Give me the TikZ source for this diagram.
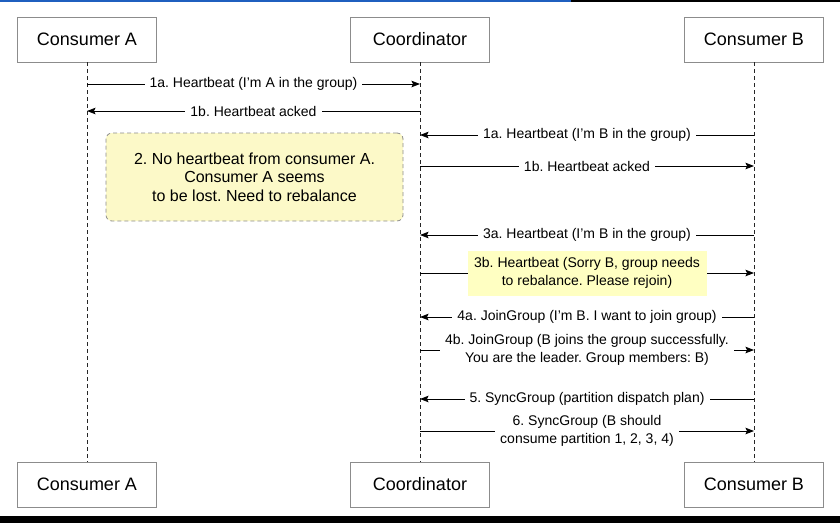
\documentclass[tikz,border=0pt]{standalone}
\usepackage{fontspec}
\setmainfont{Liberation Sans}
\usepackage{xcolor}
\usepackage{tikz}
\usetikzlibrary{arrows.meta,positioning}
\frenchspacing

\definecolor{notefill}{HTML}{FCF9C8}
\definecolor{hlfill}{HTML}{FFFFC2}
\definecolor{boxgray}{HTML}{8C8C8C}
\definecolor{barblue}{HTML}{1F5FBF}

\tikzset{
  actor/.style={draw=boxgray, line width=0.8pt, fill=white, minimum width=139pt,
    minimum height=45pt, inner sep=0pt, font=\fontsize{18}{21}\selectfont},
  lifeline/.style={line width=0.9pt, black!85, dash pattern=on 4pt off 3pt},
  msg/.style={line width=0.9pt, -{Stealth[length=8.5pt,width=6.5pt,inset=1.5pt]}},
  lbl/.style={fill=white, inner xsep=5pt, inner ysep=1pt, align=center,
    font=\fontsize{14}{17.5}\selectfont},
  notebox/.style={draw=boxgray, line width=0.8pt, dash pattern=on 4pt off 3pt,
    rounded corners=6pt, fill=notefill, minimum width=297pt, minimum height=88pt,
    align=center, font=\fontsize{16}{18.5}\selectfont}
}

\begin{document}
\begin{tikzpicture}[x=1pt, y=-1pt]
\useasboundingbox (0,0) rectangle (840,523);

% Screen edges
\fill[barblue] (0,0) rectangle (571,1.5);
\fill[black] (571,0) rectangle (840,1.5);
\fill[black] (0,516) rectangle (840,523);

% Participants
\node[actor] (caTop) at (87,39.5) {Consumer A};
\node[actor] (coTop) at (420,39.5) {Coordinator};
\node[actor] (cbTop) at (754,39.5) {Consumer B};
\node[actor] (caBot) at (87,484.5) {Consumer A};
\node[actor] (coBot) at (420,484.5) {Coordinator};
\node[actor] (cbBot) at (754,484.5) {Consumer B};

% Lifelines
\draw[lifeline] (caTop) -- (caBot);
\draw[lifeline] (coTop) -- (coBot);
\draw[lifeline] (cbTop) -- (cbBot);

% Lost consumer note
\node[notebox] (lostA) at (254.5,177) {2. No heartbeat from consumer A.\\Consumer A seems\\to be lost. Need to rebalance};

% Message end points on the lifelines
\coordinate (a1) at (caTop |- 0,84);  \coordinate (c1) at (coTop |- 0,84);
\coordinate (a2) at (caTop |- 0,111); \coordinate (c2) at (coTop |- 0,111);
\coordinate (c3) at (coTop |- 0,135); \coordinate (b3) at (cbTop |- 0,135);
\coordinate (c4) at (coTop |- 0,166); \coordinate (b4) at (cbTop |- 0,166);
\coordinate (c5) at (coTop |- 0,235); \coordinate (b5) at (cbTop |- 0,235);
\coordinate (c6) at (coTop |- 0,273); \coordinate (b6) at (cbTop |- 0,273);
\coordinate (c7) at (coTop |- 0,317); \coordinate (b7) at (cbTop |- 0,317);
\coordinate (c8) at (coTop |- 0,350); \coordinate (b8) at (cbTop |- 0,350);
\coordinate (c9) at (coTop |- 0,399); \coordinate (b9) at (cbTop |- 0,399);
\coordinate (c10) at (coTop |- 0,431); \coordinate (b10) at (cbTop |- 0,431);

% Consumer A heartbeat
\draw[msg] (a1) -- node[lbl] {1a. Heartbeat (I’m A in the group)} (c1);
\draw[msg] (c2) -- node[lbl] {1b. Heartbeat acked} (a2);

% Consumer B heartbeat
\draw[msg] (b3) -- node[lbl] {1a. Heartbeat (I’m B in the group)} (c3);
\draw[msg] (c4) -- node[lbl] {1b. Heartbeat acked} (b4);

% Rebalance
\draw[msg] (b5) -- node[lbl] {3a. Heartbeat (I’m B in the group)} (c5);
\draw[msg] (c6) -- node[lbl, fill=hlfill, minimum width=239pt, minimum height=45pt]
  {3b. Heartbeat (Sorry B, group needs\\to rebalance. Please rejoin)} (b6);

% Join and sync
\draw[msg] (b7) -- node[lbl] {4a. JoinGroup (I’m B. I want to join group)} (c7);
\draw[msg] (c8) -- node[lbl] {4b. JoinGroup (B joins the group successfully.\\You are the leader. Group members: B)} (b8);
\draw[msg] (b9) -- node[lbl] {5. SyncGroup (partition dispatch plan)} (c9);
\draw[msg] (c10) -- node[lbl] {6. SyncGroup (B should\\consume partition 1, 2, 3, 4)} (b10);

\end{tikzpicture}
\end{document}
